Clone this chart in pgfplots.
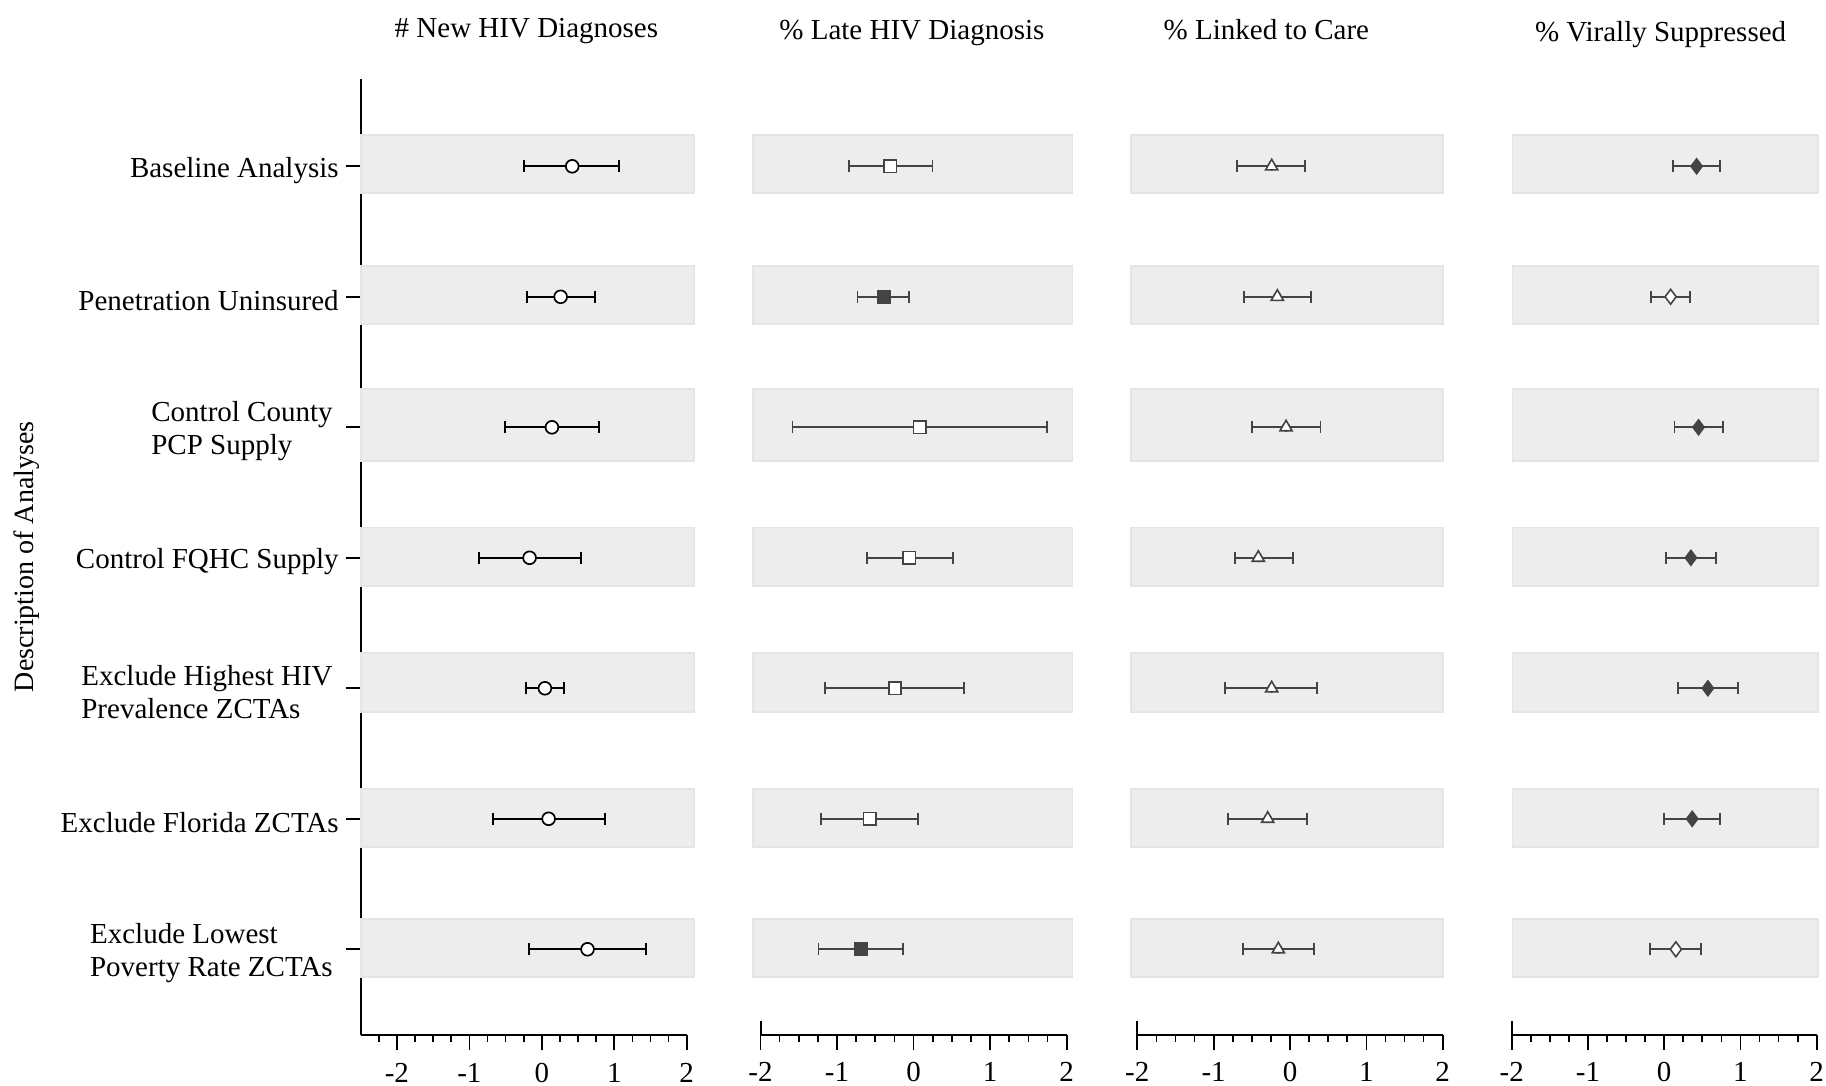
\documentclass[border=0pt]{standalone}
\usepackage{fontspec}
\setmainfont{Liberation Serif}
\usepackage{pgfplots}
\usepackage{pgfplotstable}
\pgfplotsset{compat=1.18}

\definecolor{band}{HTML}{EDEDED}
\definecolor{bandedge}{HTML}{E5E5E5}
\definecolor{mk}{HTML}{444444}
\newcommand\lab{\fontsize{14.5pt}{16.5pt}\selectfont}

% pos = row (7 = top), lo/est/hi = estimate and 95% interval, sig: o = open, f = filled
\pgfplotstableread{
pos lo est hi
7 -0.240 0.420 1.060
6 -0.200 0.260 0.735
5 -0.510 0.140 0.795
4 -0.864 -0.169 0.536
3 -0.223 0.043 0.309
2 -0.680 0.094 0.868
1 -0.171 0.631 1.437
}\newdx

\pgfplotstableread{
pos lo est hi sig
7 -0.846 -0.306 0.248 o
6 -0.732 -0.392 -0.057 f
5 -1.582 0.082 1.742 o
4 -0.614 -0.057 0.518 o
3 -1.155 -0.244 0.657 o
2 -1.212 -0.575 0.056 o
1 -1.242 -0.685 -0.140 f
}\latedx

\pgfplotstableread{
pos lo est hi
7 -0.690 -0.240 0.200
6 -0.600 -0.166 0.280
5 -0.500 -0.052 0.400
4 -0.724 -0.415 0.043
3 -0.847 -0.240 0.357
2 -0.816 -0.292 0.218
1 -0.611 -0.153 0.314
}\linked

\pgfplotstableread{
pos lo est hi sig
7 0.114 0.425 0.730 f
6 -0.170 0.084 0.337 o
5 0.136 0.450 0.766 f
4 0.026 0.350 0.678 f
3 0.184 0.573 0.967 f
2 0.000 0.367 0.735 f
1 -0.184 0.153 0.481 o
}\suppressed

% grey background band behind one row
\newcommand\bandrow[4]{\addplot[forget plot, fill=band, draw=bandedge, line width=0.9pt] coordinates {(#1,#3) (#2,#3) (#2,#4) (#1,#4)} -- cycle;}
\newcommand\bands[2]{%
  \bandrow{#1}{#2}{6.793}{7.240}
  \bandrow{#1}{#2}{5.792}{6.236}
  \bandrow{#1}{#2}{4.744}{5.293}
  \bandrow{#1}{#2}{3.786}{4.232}
  \bandrow{#1}{#2}{2.821}{3.268}
  \bandrow{#1}{#2}{1.786}{2.226}
  \bandrow{#1}{#2}{0.790}{1.232}}

\pgfplotsset{
  every non boxed x axis/.style={},
  every non boxed y axis/.style={},
  panel/.style={
    scale only axis, height=478pt, ymin=0.343, ymax=7.669, clip=false,
    anchor=south west,
    axis x line*=bottom,
    x axis line style={line width=1pt,-},
    xtick={-2,-1,0,1,2}, xticklabels={-2,-1,0,1,2},
    minor xtick={-1.75,-1.5,-1.25,-0.75,-0.5,-0.25,0.25,0.5,0.75,1.25,1.5,1.75},
    tick align=outside, major tick length=7.3pt, minor tick length=3.5pt,
    tick style={black, line width=0.85pt},
    xticklabel style={font=\lab, yshift=-3pt},
  },
  bare/.style={panel, axis y line=none, ytick=\empty, xmin=-2, xmax=2},
  ci/.style={forget plot, only marks, mark=none,
    error bars/.cd, x dir=both, x explicit, error mark=|,
    error bar style={#1}, error mark options={#1, mark size=3pt}},
}

\begin{document}
\begin{tikzpicture}
\path[use as bounding box] (0,0) rectangle (913pt,-543pt);

% # New HIV Diagnoses
\begin{axis}[panel, at={(180.35pt,-517.5pt)}, width=163pt, xmin=-2.5, xmax=2,
  minor xtick={-2.25,-1.75,-1.5,-1.25,-0.75,-0.5,-0.25,0.25,0.5,0.75,1.25,1.5,1.75},
  axis y line*=left, y axis line style={line width=1pt,-},
  ytick={1,2,3,4,5,6,7}, major tick length=7.5pt,
  yticklabels={{Exclude Lowest\\Poverty Rate ZCTAs\hspace*{3pt}}, {Exclude Florida ZCTAs},
    {Exclude Highest HIV\hspace*{3pt}\\Prevalence ZCTAs}, {Control FQHC Supply},
    {Control County\hspace*{3pt}\\PCP Supply}, {Penetration Uninsured}, {Baseline Analysis}},
  yticklabel style={font=\lab, align=left, yshift=-2pt}]
\bands{-2.5}{2.1}
\addplot[ci={black, line width=1pt}] table[x=est, y=pos,
  x error plus expr=\thisrow{hi}-\thisrow{est},
  x error minus expr=\thisrow{est}-\thisrow{lo}] {\newdx};
\addplot[only marks, mark=*, mark size=3.2pt, draw=black, fill=white, line width=0.85pt]
  table[x=est, y=pos] {\newdx};
\end{axis}

% % Late HIV Diagnosis
\begin{axis}[bare, at={(380.25pt,-517.5pt)}, width=153.1pt]
\bands{-2.10}{2.077}
\draw[black, line width=1pt] (rel axis cs:0,0) -- ++(0pt,7.2pt);
\addplot[ci={mk, line width=0.9pt}] table[x=est, y=pos,
  x error plus expr=\thisrow{hi}-\thisrow{est},
  x error minus expr=\thisrow{est}-\thisrow{lo}] {\latedx};
\addplot[scatter, only marks, scatter src=explicit symbolic, mark size=3.1pt, line width=0.8pt,
  scatter/classes={o={mark=square*, draw=mk, fill=white}, f={mark=square*, draw=mk, fill=mk}}]
  table[x=est, y=pos, meta=sig] {\latedx};
\end{axis}

% % Linked to Care
\begin{axis}[bare, at={(568.65pt,-517.5pt)}, width=152.7pt]
\bands{-2.083}{2.0}
\draw[black, line width=1pt] (rel axis cs:0,0) -- ++(0pt,7.2pt);
\addplot[ci={mk, line width=0.9pt}] table[x=est, y=pos,
  x error plus expr=\thisrow{hi}-\thisrow{est},
  x error minus expr=\thisrow{est}-\thisrow{lo}] {\linked};
\addplot[only marks, mark=triangle*, mark size=3.5pt, draw=mk, fill=white, line width=0.8pt]
  table[x=est, y=pos] {\linked};
\end{axis}

% % Virally Suppressed
\begin{axis}[bare, at={(755.85pt,-517.5pt)}, width=152.5pt]
\bands{-1.99}{2.02}
\draw[black, line width=1pt] (rel axis cs:0,0) -- ++(0pt,7.2pt);
\addplot[ci={mk, line width=0.9pt}] table[x=est, y=pos,
  x error plus expr=\thisrow{hi}-\thisrow{est},
  x error minus expr=\thisrow{est}-\thisrow{lo}] {\suppressed};
\addplot[scatter, only marks, scatter src=explicit symbolic, mark size=3.7pt, line width=0.8pt,
  scatter/classes={o={mark=diamond*, draw=mk, fill=white}, f={mark=diamond*, draw=mk, fill=mk}}]
  table[x=est, y=pos, meta=sig] {\suppressed};
\end{axis}

% panel titles and the shared row-axis title
\node[font=\lab, anchor=base] at (263.2pt,-18.8pt) {\# New HIV Diagnoses};
\node[font=\lab, anchor=base] at (455.95pt,-20pt) {\% Late HIV Diagnosis};
\node[font=\lab, anchor=base] at (633.2pt,-20pt) {\% Linked to Care};
\node[font=\lab, anchor=base] at (830.3pt,-21pt) {\% Virally Suppressed};
\node[font=\fontsize{14pt}{16pt}\selectfont, rotate=90] at (13.5pt,-278.4pt) {Description of Analyses};
\end{tikzpicture}
\end{document}
